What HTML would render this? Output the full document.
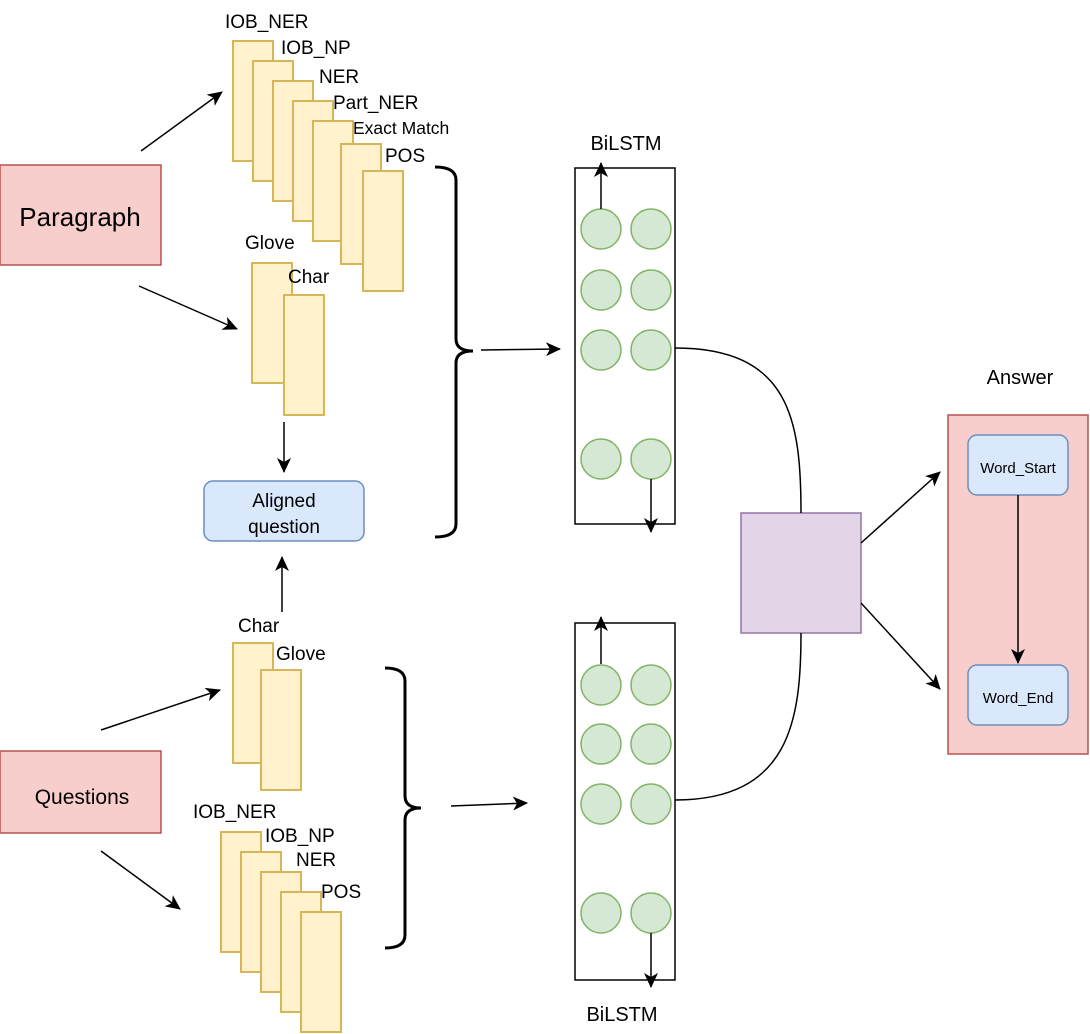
<!DOCTYPE html>
<html><head><meta charset="utf-8"><style>body{margin:0;background:#fff}svg{display:block}text{font-family:"Liberation Sans",Arial,sans-serif;fill:#000}</style></head>
<body>
<svg width="1090" height="1034" viewBox="0 0 1090 1034" xmlns="http://www.w3.org/2000/svg">
<defs><marker id="a" markerWidth="16" markerHeight="16" refX="14" refY="7" orient="auto" markerUnits="userSpaceOnUse"><path d="M0,0 L15,7 L0,14 L4,7 z" fill="#000"/></marker></defs>
<g fill="#f8cecc" stroke="#b85450" stroke-width="1.5">
<rect x="0" y="165" width="161" height="100"/>
<rect x="0" y="751" width="161" height="82"/>
<rect x="948" y="415" width="140" height="339"/>
</g>
<text x="80" y="226" font-size="26" text-anchor="middle">Paragraph</text>
<text x="82" y="804" font-size="21" text-anchor="middle">Questions</text>
<text x="1020" y="384" font-size="20" text-anchor="middle">Answer</text>
<g fill="#dae8fc" stroke="#6c8ebf" stroke-width="1.5">
<rect x="204" y="481" width="160" height="60" rx="9"/>
<rect x="968" y="435" width="100" height="60" rx="9"/>
<rect x="968" y="665" width="100" height="60" rx="9"/>
</g>
<text x="284" y="507" font-size="19" text-anchor="middle">Aligned</text>
<text x="284" y="533" font-size="19" text-anchor="middle">question</text>
<text x="1018" y="473" font-size="15" text-anchor="middle">Word_Start</text>
<text x="1018" y="703" font-size="15" text-anchor="middle">Word_End</text>
<rect x="741" y="513" width="120" height="120" fill="#e1d5e7" stroke="#9673a6" stroke-width="1.5"/>
<g fill="#fff2cc" stroke="#d6b656" stroke-width="2">
<rect x="233" y="41" width="40" height="120"/><rect x="253" y="61" width="40" height="120"/><rect x="273" y="81" width="40" height="120"/><rect x="293" y="101" width="40" height="120"/><rect x="313" y="121" width="40" height="120"/><rect x="341" y="144" width="40" height="120"/><rect x="363" y="171" width="40" height="120"/>
<rect x="252" y="263" width="40" height="120"/><rect x="284" y="295" width="40" height="120"/>
<rect x="233" y="643" width="40" height="120"/><rect x="261" y="670" width="40" height="120"/>
<rect x="221" y="832" width="40" height="120"/><rect x="241" y="852" width="40" height="120"/><rect x="261" y="872" width="40" height="120"/><rect x="281" y="892" width="40" height="120"/><rect x="301" y="912" width="40" height="120"/>
</g>
<g font-size="19">
<text x="225" y="28">IOB_NER</text><text x="281" y="54">IOB_NP</text><text x="319" y="83">NER</text><text x="333" y="109">Part_NER</text><text x="353" y="134" font-size="17.5">Exact Match</text><text x="385" y="162">POS</text>
<text x="245" y="249">Glove</text><text x="288" y="283">Char</text>
<text x="238" y="632">Char</text><text x="276" y="660">Glove</text>
<text x="193" y="818">IOB_NER</text><text x="265" y="842">IOB_NP</text><text x="296" y="866">NER</text><text x="321" y="898">POS</text>
</g>
<g fill="none" stroke="#000" stroke-width="3">
<path d="M435,167 Q456,167 456,180 L456,339 Q456,351 473,351 Q456,351 456,363 L456,524 Q456,537 435,537"/>
<path d="M385,668 Q405,668 405,681 L405,796 Q405,808 421,808 Q405,808 405,820 L405,935 Q405,948 385,948"/>
</g>
<g fill="#fff" stroke="#000" stroke-width="1.5">
<rect x="575" y="168" width="100" height="356"/>
<rect x="575" y="623" width="100" height="357"/>
</g>
<g fill="#d5e8d4" stroke="#82b366" stroke-width="1.5">
<circle cx="601" cy="229" r="20"/><circle cx="651" cy="229" r="20"/>
<circle cx="601" cy="290" r="20"/><circle cx="651" cy="290" r="20"/>
<circle cx="601" cy="350" r="20"/><circle cx="651" cy="350" r="20"/>
<circle cx="601" cy="459" r="20"/><circle cx="651" cy="459" r="20"/>
<circle cx="601" cy="685" r="20"/><circle cx="651" cy="685" r="20"/>
<circle cx="601" cy="744" r="20"/><circle cx="651" cy="744" r="20"/>
<circle cx="601" cy="804" r="20"/><circle cx="651" cy="804" r="20"/>
<circle cx="601" cy="913" r="20"/><circle cx="651" cy="913" r="20"/>
</g>
<text x="626" y="150" font-size="20" text-anchor="middle">BiLSTM</text>
<text x="622" y="1021" font-size="20" text-anchor="middle">BiLSTM</text>
<g fill="none" stroke="#000" stroke-width="1.5" marker-end="url(#a)">
<line x1="141" y1="151" x2="222" y2="92"/>
<line x1="139" y1="286" x2="237" y2="329"/>
<line x1="284" y1="422" x2="284" y2="472"/>
<line x1="282" y1="612" x2="282" y2="557"/>
<line x1="101" y1="730" x2="220" y2="690"/>
<line x1="101" y1="851" x2="180" y2="909"/>
<line x1="481" y1="350" x2="560" y2="349"/>
<line x1="451" y1="806" x2="527" y2="803"/>
<line x1="601" y1="209" x2="601" y2="163"/>
<line x1="651" y1="479" x2="651" y2="532"/>
<line x1="601" y1="664" x2="601" y2="617"/>
<line x1="651" y1="933" x2="651" y2="987"/>
<line x1="861" y1="543" x2="940" y2="472"/>
<line x1="861" y1="603" x2="940" y2="689"/>
<line x1="1018" y1="495" x2="1018" y2="663"/>
</g>
<g fill="none" stroke="#000" stroke-width="1.5">
<path d="M675,348 C790,348 801,420 801,513"/>
<path d="M675,800 C790,800 801,720 801,633"/>
</g>
</svg>
</body></html>
